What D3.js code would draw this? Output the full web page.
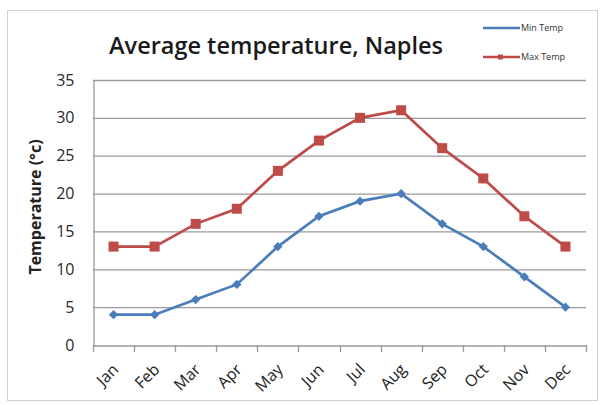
<!DOCTYPE html>
<html><head><meta charset="utf-8">
<script src="https://cdn.jsdelivr.net/npm/d3@7"></script>
<style>body{margin:0;background:#fff}svg{display:block}</style>
</head><body>
<script>
const months = ["Jan","Feb","Mar","Apr","May","Jun","Jul","Aug","Sep","Oct","Nov","Dec"];
const minTemp = [4,4,6,8,13,17,19,20,16,13,9,5];
const maxTemp = [13,13,16,18,23,27,30,31,26,22,17,13];
const yTicks = [0,5,10,15,20,25,30,35];
const seriesNames = ["Min Temp","Max Temp"];

const W=604,H=405;
const svg=d3.select("body").append("svg").attr("width",W).attr("height",H);
svg.append("rect").attr("x",7.5).attr("y",10.5).attr("width",590).attr("height",390)
  .attr("fill","#fff").attr("stroke","#d0d0d0");

const pL=93,pR=586,pT=80,pB=345;
const x=d3.scaleBand().domain(months).range([pL,pR]);
const y=d3.scaleLinear().domain([0,35]).range([pB,pT]);

// gridlines
svg.append("g").selectAll("line").data(yTicks.filter(d=>d>0)).join("line")
  .attr("x1",pL).attr("x2",pR).attr("y1",d=>y(d)+0.5).attr("y2",d=>y(d)+0.5)
  .attr("stroke","#9a9a9a").attr("stroke-width",1.3);

// y axis
const ya=svg.append("g").attr("transform",`translate(${pL+0.5},0)`)
  .call(d3.axisLeft(y).tickValues(yTicks).tickSize(0).tickPadding(19));
ya.select(".domain").attr("stroke","#9a9a9a").attr("stroke-width",1.3);
ya.selectAll("text").attr("font-family","'Open Sans',sans-serif").attr("font-size",16).attr("fill","#2a2a2a");

// x axis
const xa=svg.append("g").attr("transform",`translate(0,${pB+0.5})`)
  .call(d3.axisBottom(x).tickSize(0));
xa.select(".domain").attr("stroke","#9a9a9a").attr("stroke-width",1.3);
xa.selectAll("text").attr("font-family","'Open Sans',sans-serif").attr("font-size",16).attr("fill","#222")
  .attr("text-anchor","end").attr("x",0).attr("y",0).attr("dy",0)
  .attr("transform","translate(6,25) rotate(-45)");
const bounds=months.map((m)=>x(m)).concat([pR]);
svg.append("g").selectAll("line").data(bounds).join("line")
  .attr("x1",d=>Math.round(d)+0.5).attr("x2",d=>Math.round(d)+0.5)
  .attr("y1",pB).attr("y2",pB+7).attr("stroke","#9a9a9a").attr("stroke-width",1.3);

const cx=m=>x(m)+x.bandwidth()/2;
const line=d3.line().x((d,i)=>cx(months[i])).y(d=>y(d));
const colors=["#4a7ebb","#be4b48"];

svg.append("path").datum(minTemp).attr("d",line).attr("fill","none").attr("stroke",colors[0]).attr("stroke-width",2.7);
svg.append("path").datum(maxTemp).attr("d",line).attr("fill","none").attr("stroke",colors[1]).attr("stroke-width",2.7);

svg.append("g").selectAll("path").data(minTemp).join("path")
  .attr("d",d3.symbol(d3.symbolDiamond2,55)())
  .attr("transform",(d,i)=>`translate(${cx(months[i])},${y(d)})`).attr("fill",colors[0]);
svg.append("g").selectAll("rect").data(maxTemp).join("rect")
  .attr("x",(d,i)=>cx(months[i])-5).attr("y",d=>y(d)-5).attr("width",10).attr("height",10)
  .attr("fill",colors[1]);

// title
svg.append("text").attr("x",276).attr("y",54).attr("text-anchor","middle")
  .attr("font-family","'Open Sans',sans-serif").attr("font-weight",600).attr("font-size",23.5)
  .attr("fill","#1a1a1a").text("Average temperature, Naples");

// y title
svg.append("text").attr("transform","translate(41,207) rotate(-90)").attr("text-anchor","middle")
  .attr("font-family","'Open Sans',sans-serif").attr("font-weight",700).attr("font-size",16)
  .attr("fill","#222").text("Temperature (°c)");

// legend
const lg=svg.append("g");
seriesNames.forEach((n,i)=>{
  const ly=[28,57][i];
  lg.append("line").attr("x1",483).attr("x2",520).attr("y1",ly).attr("y2",ly).attr("stroke",colors[i]).attr("stroke-width",2.5);
  if(i===1) lg.append("rect").attr("x",498).attr("y",ly-2.5).attr("width",5).attr("height",5).attr("fill",colors[i]);
  lg.append("text").attr("x",521).attr("y",ly+3).attr("font-family","'Open Sans',sans-serif").attr("font-size",9)
    .attr("fill","#333").text(n);
});
</script>
</body></html>
